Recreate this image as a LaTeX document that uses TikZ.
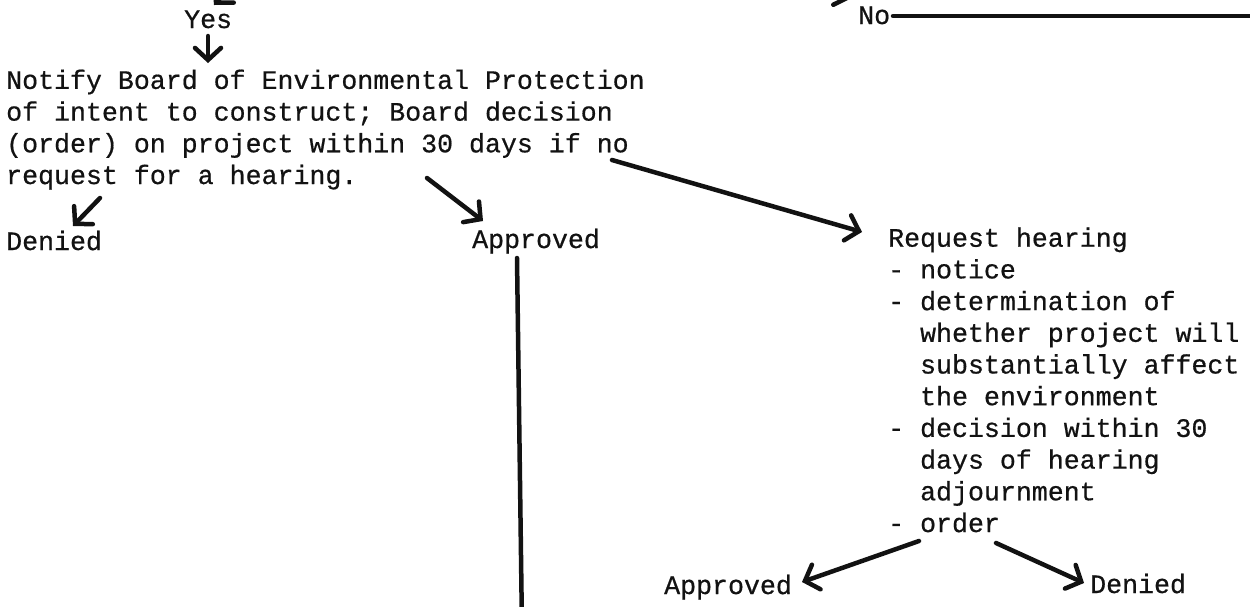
\documentclass[tikz,border=0pt]{standalone}
\usepackage{tikz}
\usepackage{fontspec}
\usetikzlibrary{arrows.meta}
\newfontfamily\typer{Liberation Mono}[FakeBold=0.6]
\definecolor{ink}{RGB}{18,18,18}
\newcommand{\indnt}{\phantom{- }}

\begin{document}
\begin{tikzpicture}[x=1pt,y=-1pt,
    txt/.style={anchor=base west,inner sep=0pt,align=left,text=ink,
      font=\typer\fontsize{26.6}{31.7}\selectfont},
    pen/.style={draw=ink,line width=4.5pt,line cap=round,line join=round},
    penarrow/.style={pen,-{Straight Barb[length=12pt,width=26pt,line cap=round]}}]
    \useasboundingbox (0,0) rectangle (1250,606);
    \clip (0,0) rectangle (1250,606);

    % Text blocks (base = last line)
    \node[txt] (yes) at (184,28) {Yes};
    \node[txt] (no) at (858,24) {No};
    \node[txt] (notify) at (6,184) {Notify Board of Environmental Protection\\
      of intent to construct; Board decision\\
      (order) on project within 30 days if no\\
      request for a hearing.};
    \node[txt] (deniedA) at (6,250) {Denied};
    \node[txt] (approvedA) at (472,248) {Approved};
    \node[txt] (request) at (888,532) {Request hearing\\
      - notice\\
      - determination of\\
      \indnt whether project will\\
      \indnt substantially affect\\
      \indnt the environment\\
      - decision within 30\\
      \indnt days of hearing\\
      \indnt adjournment\\
      - order};
    \node[txt] (approvedB) at (664,594) {Approved};
    \node[txt] (deniedB) at (1090,593) {Denied};

    % Ends running off the page
    \coordinate (fromAbove) at (255,-40);
    \coordinate (fromAboveR) at (800,-22);
    \coordinate (offBottom) at (522,630);
    \coordinate (offRight) at (1270,16);

    % Arrows
    \draw[penarrow] (fromAbove) -- ([shift={(30,-23)}]yes.base west);
    \draw[penarrow] (fromAboveR) -- ([shift={(-6,-26)}]no.base west);
    \draw[pen] ([shift={(35,-8)}]no.base west) -- (offRight);
    \draw[penarrow] ([shift={(24,8)}]yes.base west) -- ([shift={(202,-121)}]notify.base west);
    \draw[penarrow] ([shift={(94,14)}]notify.base west) -- ([shift={(67,-24)}]deniedA.base west);
    \draw[penarrow] ([shift={(421,-6)}]notify.base west) -- ([shift={(11,-27)}]approvedA.base west);
    \draw[penarrow] ([shift={(606,-24)}]notify.base west) -- ([shift={(-26,-300)}]request.base west);
    \draw[pen] ([shift={(45,10)}]approvedA.base west) -- (offBottom);
    \draw[penarrow] ([shift={(31,9)}]request.base west) -- ([shift={(138,-12)}]approvedB.base west);
    \draw[penarrow] ([shift={(108,11)}]request.base west) -- ([shift={(-6,-10)}]deniedB.base west);
\end{tikzpicture}
\end{document}
